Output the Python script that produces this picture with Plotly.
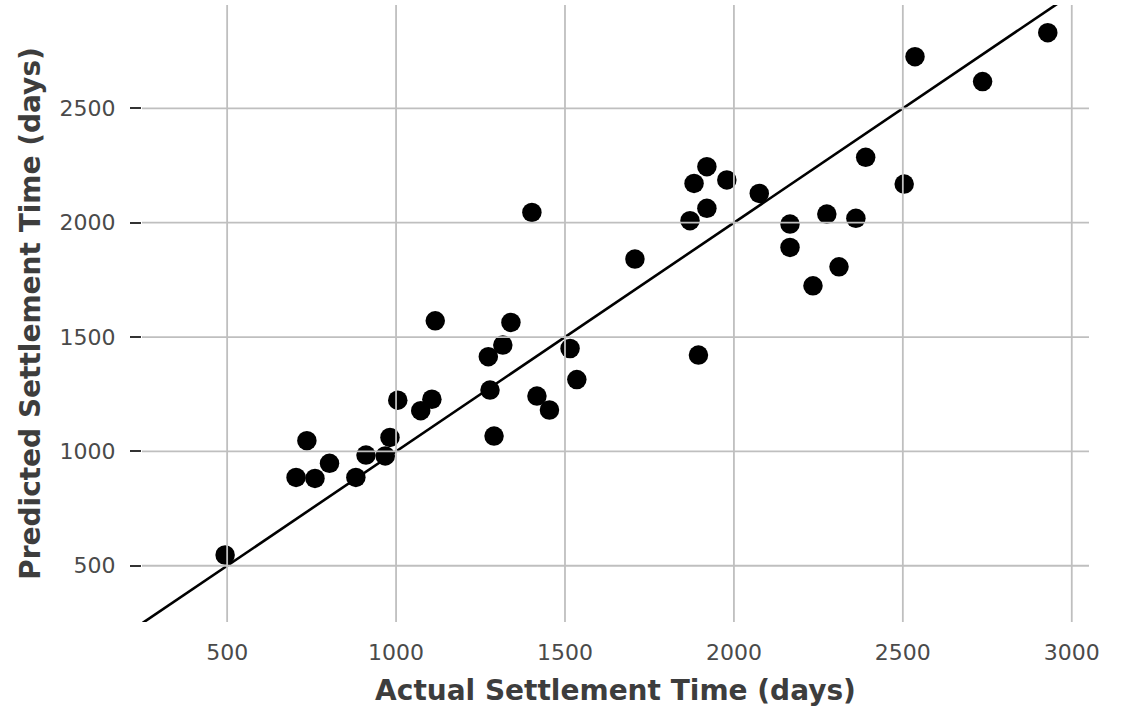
import plotly.graph_objects as go

# ---- data ----
actual = [494, 736, 704, 760, 803, 881, 911, 968, 982, 1005, 1073, 1106,
          1116, 1340, 1316, 1273, 1278, 1290, 1417, 1454, 1515, 1535, 1402,
          1707, 1870, 1920, 1882, 1920, 1979, 2075, 2166, 2166, 2275, 2311,
          2361, 2390, 2234, 2504, 2536, 2736, 2929, 1895]
predicted = [547, 1047, 886, 882, 948, 886, 984, 980, 1061, 1224, 1178, 1228,
             1571, 1564, 1465, 1414, 1268, 1067, 1242, 1181, 1450, 1314, 2045,
             1841, 2009, 2063, 2172, 2245, 2187, 2128, 1994, 1892, 2038, 1807,
             2019, 2286, 1724, 2169, 2726, 2617, 2831, 1421]

x_ticks = [500, 1000, 1500, 2000, 2500, 3000]
y_ticks = [500, 1000, 1500, 2000, 2500]
x_range = [248, 3051]
y_range = [254, 2952]
ideal = [min(x_range[0], y_range[0]), max(x_range[1], y_range[1])]

x_title = "Actual Settlement Time (days)"
y_title = "Predicted Settlement Time (days)"

FONT = "DejaVu Sans"
GRID = "#bfbfbf"

fig = go.Figure()
fig.add_trace(go.Scatter(
    x=actual, y=predicted, mode="markers",
    marker=dict(color="black", size=19.5, line=dict(width=0)),
    showlegend=False, cliponaxis=False,
))
fig.add_trace(go.Scatter(
    x=ideal, y=ideal, mode="lines",
    line=dict(color="black", width=2.6),
    showlegend=False,
))

# grid lines drawn above the markers, as in the reference
shapes = []
for xv in x_ticks:
    shapes.append(dict(type="line", xref="x", yref="y domain", x0=xv, x1=xv,
                       y0=0, y1=1, line=dict(color=GRID, width=1.8), layer="above"))
for yv in y_ticks:
    shapes.append(dict(type="line", xref="x domain", yref="y", x0=0, x1=1,
                       y0=yv, y1=yv, line=dict(color=GRID, width=1.8), layer="above"))

fig.update_layout(
    width=1127, height=710,
    margin=dict(l=142, r=38, t=5, b=88),
    paper_bgcolor="white", plot_bgcolor="white",
    font=dict(family=FONT),
    shapes=shapes,
    xaxis=dict(
        range=x_range, tickvals=x_ticks, showgrid=False, zeroline=False,
        showline=False, ticks="outside", ticklen=11, tickcolor="rgba(0,0,0,0)",
        tickfont=dict(family=FONT, size=22, color="#4a4a4a"),
        title=dict(text=f"<b>{x_title}</b>", standoff=15,
                   font=dict(family=FONT, size=28, color="#3d3d3d")),
    ),
    yaxis=dict(
        range=y_range, tickvals=y_ticks, showgrid=False, zeroline=False,
        showline=False, ticks="outside", ticklen=11, tickwidth=1.6,
        tickcolor="#333333", ticklabelstandoff=10,
        tickfont=dict(family=FONT, size=22, color="#4a4a4a"),
        title=dict(text=f"<b>{y_title}</b>", standoff=10,
                   font=dict(family=FONT, size=28, color="#3d3d3d")),
    ),
)

fig.write_html("out.html", config={"displayModeBar": False},
               post_script="document.body.style.margin='0';document.body.style.padding='0';")
